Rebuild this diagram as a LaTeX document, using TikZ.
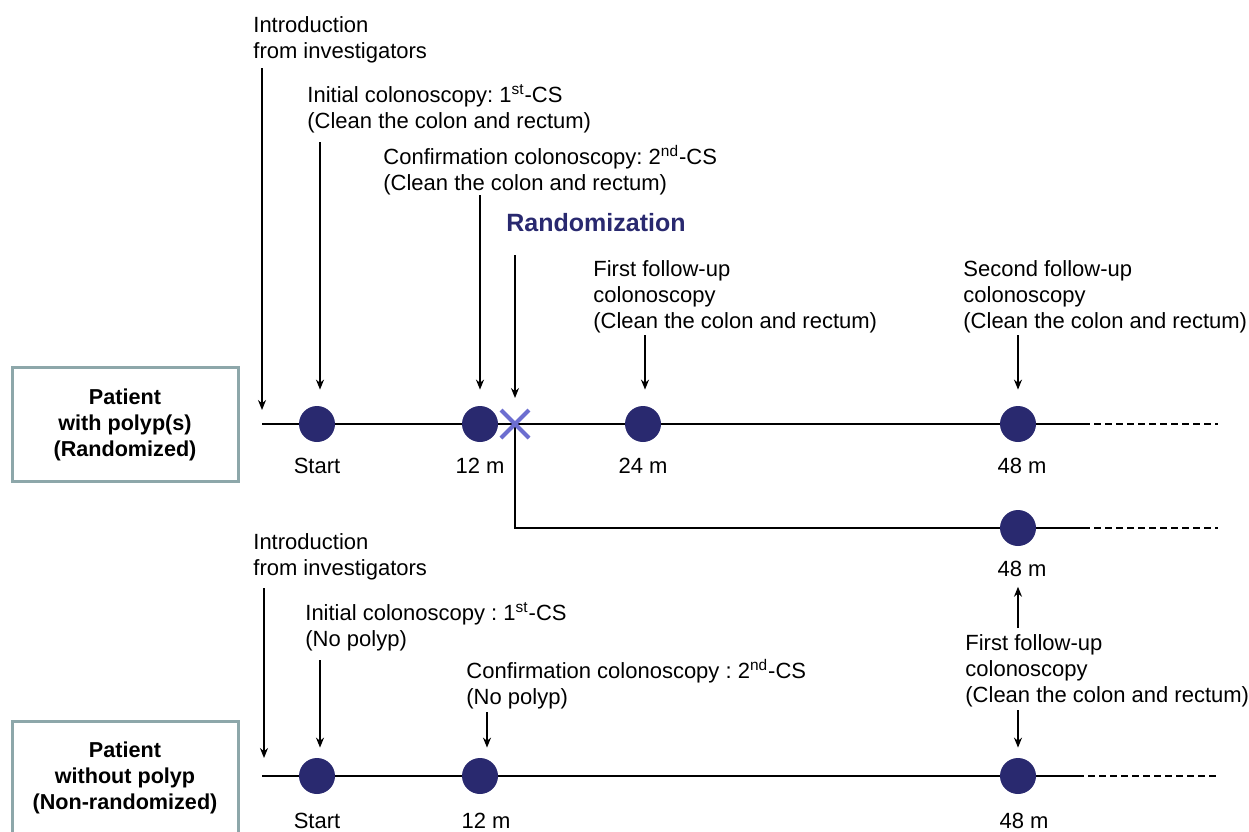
\documentclass[tikz,border=0pt]{standalone}
\usepackage{fontspec}
\setmainfont{Liberation Sans}
\frenchspacing
\usetikzlibrary{positioning,shapes.misc,arrows.meta}
\definecolor{navy}{HTML}{29296F}
\definecolor{xblue}{HTML}{6C6ED0}
\definecolor{boxgray}{HTML}{8DA7AA}
\tikzset{
  dot/.style={circle, fill=navy, minimum size=18pt, inner sep=0},
  rx/.style={cross out, draw=xblue, line width=2pt, minimum size=12pt, inner sep=0},
  lbl/.style={font=\fontsize{11}{13}\selectfont, inner sep=0, align=left, anchor=north west},
  tm/.style={font=\fontsize{11}{13}\selectfont, inner sep=0},
  grp/.style={draw=boxgray, line width=1.5pt, minimum width=113pt, minimum height=57pt,
    align=center, font=\bfseries\fontsize{10.8}{13}\selectfont},
  tl/.style={black, line width=1pt},
  dl/.style={black, line width=0.8pt, dash pattern=on 3.5pt off 2pt},
  arr/.style={->, >={Stealth[length=5pt,width=4pt]}, line width=0.75pt}
}
\begin{document}
\begin{tikzpicture}[x=0.5pt,y=-0.5pt]
    \useasboundingbox (0,0) rectangle (1249,831);
    % groups
    \node [grp] (g1) at (125,424.5) {Patient\\with polyp(s)\\(Randomized)};
    \node [grp] (g2) at (125,778) {Patient\\without polyp\\(Non-randomized)};
    % time lines
    \coordinate (t1) at (262,424);
    \coordinate (t1e) at (1083,424);
    \coordinate (t1d) at (1218,424);
    \coordinate (rz) at (515,424);
    \coordinate (t2e) at (1083,528);
    \coordinate (t2d) at (1218,528);
    \coordinate (t3) at (262,776);
    \coordinate (t3e) at (1077,776);
    \coordinate (t3d) at (1218,776);
    \draw [tl] (t1) -- (t1e);
    \draw [dl] (t1e) -- (t1d);
    \draw [tl] (rz) |- (t2e);
    \draw [dl] (t2e) -- (t2d);
    \draw [tl] (t3) -- (t3e);
    \draw [dl] (t3e) -- (t3d);
    % visits
    \node [dot] (s1) at (317,424) {};
    \node [dot] (m12a) at (480,424) {};
    \node [rx] (rnd) at (rz) {};
    \node [dot] (m24) at (643,424) {};
    \node [dot] (m48a) at (1018,424) {};
    \node [dot] (m48b) at (1018,528) {};
    \node [dot] (s2) at (317,776) {};
    \node [dot] (m12b) at (480,776) {};
    \node [dot] (m48c) at (1018,776) {};
    \node [tm, below=7.5pt of s1] {Start};
    \node [tm, below=7.5pt of m12a] {12 m};
    \node [tm, below=7.5pt of m24] {24 m};
    \node [tm, below=7.5pt of m48a, xshift=2pt] {48 m};
    \node [tm, below=7pt of m48b, xshift=2pt] (l48b) {48 m};
    \node [tm, below=9pt of s2] {Start};
    \node [tm, below=9pt of m12b, xshift=3pt] {12 m};
    \node [tm, below=9pt of m48c, xshift=3pt] {48 m};
    % texts, randomized
    \node [lbl] (intro1) at (253,16) {Introduction\\from investigators};
    \node [lbl] (cs1a) at (307,84) {Initial colonoscopy: 1\textsuperscript{st}-CS\\(Clean the colon and rectum)};
    \node [lbl] (cs2a) at (383,145) {Confirmation colonoscopy: 2\textsuperscript{nd}-CS\\(Clean the colon and rectum)};
    \node [lbl, font=\bfseries\fontsize{12.5}{15}\selectfont, text=navy] (rtxt) at (506,213) {Randomization};
    \node [lbl] (fu1) at (593,260) {First follow-up\\colonoscopy\\(Clean the colon and rectum)};
    \node [lbl] (fu2) at (963,260) {Second follow-up\\colonoscopy\\(Clean the colon and rectum)};
    % texts, non-randomized
    \node [lbl] (intro2) at (253,533) {Introduction\\from investigators};
    \node [lbl] (cs1b) at (305,602) {Initial colonoscopy : 1\textsuperscript{st}-CS\\(No polyp)};
    \node [lbl] (cs2b) at (466,659) {Confirmation colonoscopy : 2\textsuperscript{nd}-CS\\(No polyp)};
    \node [lbl] (fu3) at (965,634) {First follow-up\\colonoscopy\\(Clean the colon and rectum)};
    % arrows
    \coordinate (a1) at (262,68);
    \coordinate (a2) at (320,142);
    \coordinate (a3) at (480,195);
    \coordinate (a4) at (515,255);
    \coordinate (a5) at (645,335);
    \coordinate (a6) at (1018,335);
    \coordinate (a7) at (1018,628);
    \coordinate (a8) at (1018,710);
    \coordinate (a9) at (264,588);
    \coordinate (a10) at (320,660);
    \coordinate (a11) at (487,712);
    \draw [arr, shorten >=7pt] (a1) -- (a1 |- t1);
    \draw [arr, shorten >=8pt] (a2) -- (a2 |- s1.north);
    \draw [arr, shorten >=8pt] (a3) -- (m12a.north);
    \draw [arr, shorten >=6pt] (a4) -- (rnd.north);
    \draw [arr, shorten >=8pt] (a5) -- (a5 |- m24.north);
    \draw [arr, shorten >=8pt] (a6) -- (m48a.north);
    \draw [arr, shorten >=5pt] (a7) -- (a7 |- l48b.south);
    \draw [arr, shorten >=5pt] (a8) -- (m48c.north);
    \draw [arr, shorten >=9pt] (a9) -- (a9 |- t3);
    \draw [arr, shorten >=5pt] (a10) -- (a10 |- s2.north);
    \draw [arr, shorten >=5pt] (a11) -- (a11 |- m12b.north);
  \end{tikzpicture}
\end{document}
